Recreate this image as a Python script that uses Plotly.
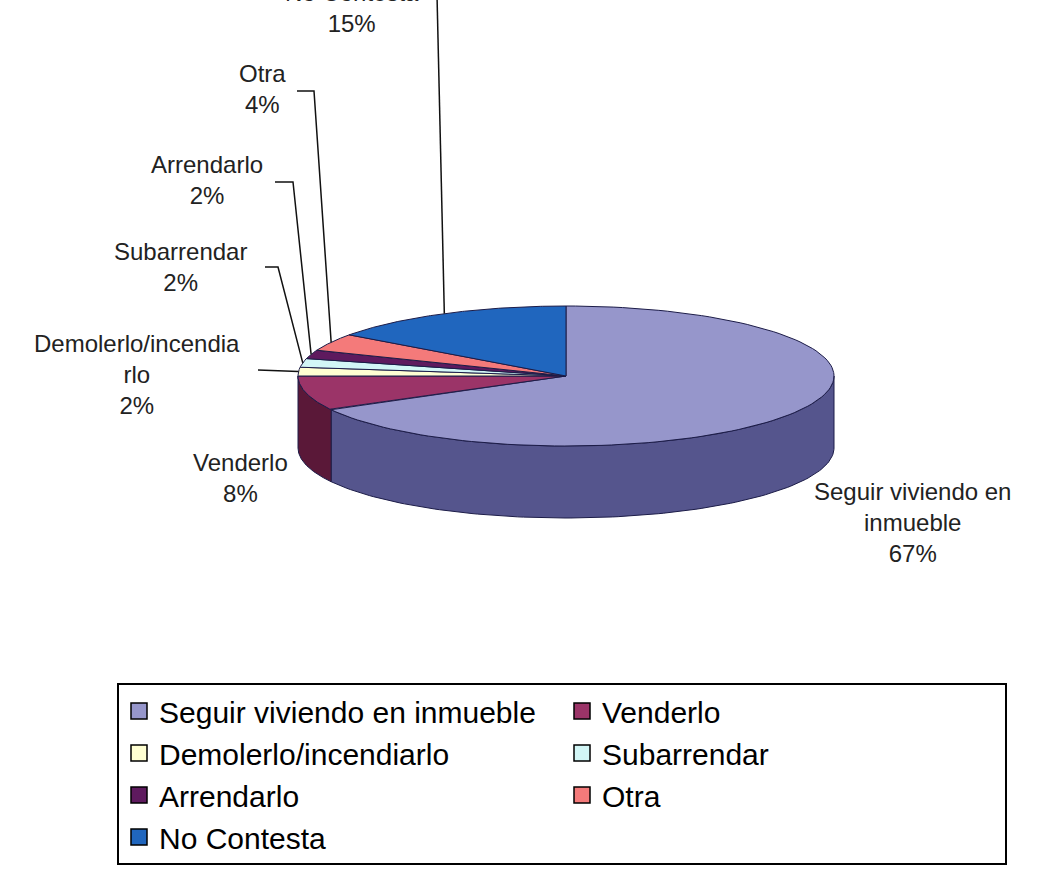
import numpy as np
import plotly.graph_objects as go

# ---- data -------------------------------------------------------------
categories = [
    "Seguir viviendo en inmueble",
    "Venderlo",
    "Demolerlo/incendiarlo",
    "Subarrendar",
    "Arrendarlo",
    "Otra",
    "No Contesta",
]
percentages = [67, 8, 2, 2, 2, 4, 15]
# wrapped category text used in the slice labels
slice_label_text = [
    "Seguir viviendo en<br>inmueble",
    "Venderlo",
    "Demolerlo/incendia<br>rlo",
    "Subarrendar",
    "Arrendarlo",
    "Otra",
    "No Contesta",
]

# ---- styling ------------------------------------------------------------
top_colors = ["#9696CB", "#9B3468", "#FFFFD2", "#D2F6F6", "#5E1A5E", "#F47A7A", "#2066BE"]
side_colors = ["#55558D", "#5A1838", "#C8C8A0", "#A0C4C4", "#3E0F3E", "#B85858", "#144A8C"]
edge_color = "#1C1C48"
text_color = "#222222"
FONT = "Liberation Sans, Arial, sans-serif"

W, H = 1046, 871
CX, CY, R = 566, 376, 268          # pie centre / radius on the page (px)
TILT = 70 / 268                    # vertical squash of the pie top
DEPTH = 72 / 268                   # thickness of the pie


def to_xy(px, py):
    """page pixel position -> axis units (pie radius = 1)."""
    return (px - CX) / R, (CY - py) / R


# label centres and leader-line knee points (page px), one per category
label_pos = [(912, 522), (240, 478), (137, 374), (180, 267), (207, 180), (262, 89), (352, 8)]
leader_knees = [
    None,
    None,
    [(258, 370)],
    [(265, 267), (278, 267)],
    [(275, 182), (293, 182)],
    [(297, 91), (314, 91)],
    [(437, -5)],
]

# ---- slice angles (clockwise from 12 o'clock) ------------------------------
total = float(sum(percentages))
bounds = 90 - 360 * np.cumsum([0] + percentages) / total


def arc(a_from, a_to, n=120):
    th = np.radians(np.linspace(a_from, a_to, n))
    return np.cos(th), TILT * np.sin(th)


fig = go.Figure()

# outer walls (only the front half, sin < 0, is visible)
for i, cat in enumerate(categories):
    a0, a1 = bounds[i], bounds[i + 1]
    hi, lo = min(a0, 0.0), max(a1, -180.0)
    if hi <= lo:
        continue
    xs, ys = arc(hi, lo)
    px_ = np.concatenate([xs, xs[::-1], xs[:1]])
    py_ = np.concatenate([ys, (ys - DEPTH)[::-1], ys[:1]])
    fig.add_trace(go.Scatter(
        x=px_, y=py_, mode="lines", fill="toself",
        fillcolor=side_colors[i], line=dict(color=edge_color, width=1),
        legendgroup=cat, showlegend=False, hoverinfo="skip",
    ))

# top faces
for i, cat in enumerate(categories):
    a0, a1 = bounds[i], bounds[i + 1]
    xs, ys = arc(a0, a1)
    fig.add_trace(go.Scatter(
        x=np.concatenate([[0], xs, [0]]), y=np.concatenate([[0], ys, [0]]),
        mode="lines", fill="toself", fillcolor=top_colors[i],
        line=dict(color=edge_color, width=1),
        legendgroup=cat, showlegend=False, name=cat,
        hovertemplate=f"{cat}: {percentages[i]}%<extra></extra>",
    ))

# leader lines from labels to the middle of their slice edge
for i, cat in enumerate(categories):
    knees = leader_knees[i]
    if not knees:
        continue
    mid = np.radians((bounds[i] + bounds[i + 1]) / 2)
    pts = [to_xy(*k) for k in knees] + [(np.cos(mid), TILT * np.sin(mid))]
    fig.add_trace(go.Scatter(
        x=[p[0] for p in pts], y=[p[1] for p in pts], mode="lines",
        line=dict(color="#111111", width=1.5),
        legendgroup=cat, showlegend=False, hoverinfo="skip",
    ))

# slice labels
for i, cat in enumerate(categories):
    lx, ly = to_xy(*label_pos[i])
    fig.add_annotation(
        x=lx, y=ly, xref="x", yref="y", showarrow=False,
        text=f"{slice_label_text[i]}<br>{percentages[i]}%",
        xanchor="center", yanchor="middle", align="center",
        font=dict(family=FONT, size=24, color=text_color),
    )

# legend entries
for i, cat in enumerate(categories):
    fig.add_trace(go.Scatter(
        x=[None], y=[None], mode="markers", name=cat, legendgroup=cat,
        marker=dict(symbol="square", size=16, color=top_colors[i],
                    line=dict(color="black", width=1.5)),
    ))

x0, _ = to_xy(0, 0)
x1, _ = to_xy(W, 0)
_, y0 = to_xy(0, H)
_, y1 = to_xy(0, 0)

fig.update_layout(
    width=W, height=H,
    margin=dict(l=0, r=0, t=0, b=0),
    paper_bgcolor="white", plot_bgcolor="white",
    xaxis=dict(range=[x0, x1], visible=False, fixedrange=True, domain=[0, 1]),
    yaxis=dict(range=[y0, y1], visible=False, fixedrange=True, domain=[0, 1]),
    showlegend=True,
    legend=dict(
        orientation="h", x=117 / W, y=1 - 683 / H, xanchor="left", yanchor="top",
        entrywidth=398, entrywidthmode="pixels", traceorder="normal",
        bordercolor="black", borderwidth=2, bgcolor="white",
        font=dict(family=FONT, size=30, color="black"),
    ),
)

fig.write_html("out.html")
